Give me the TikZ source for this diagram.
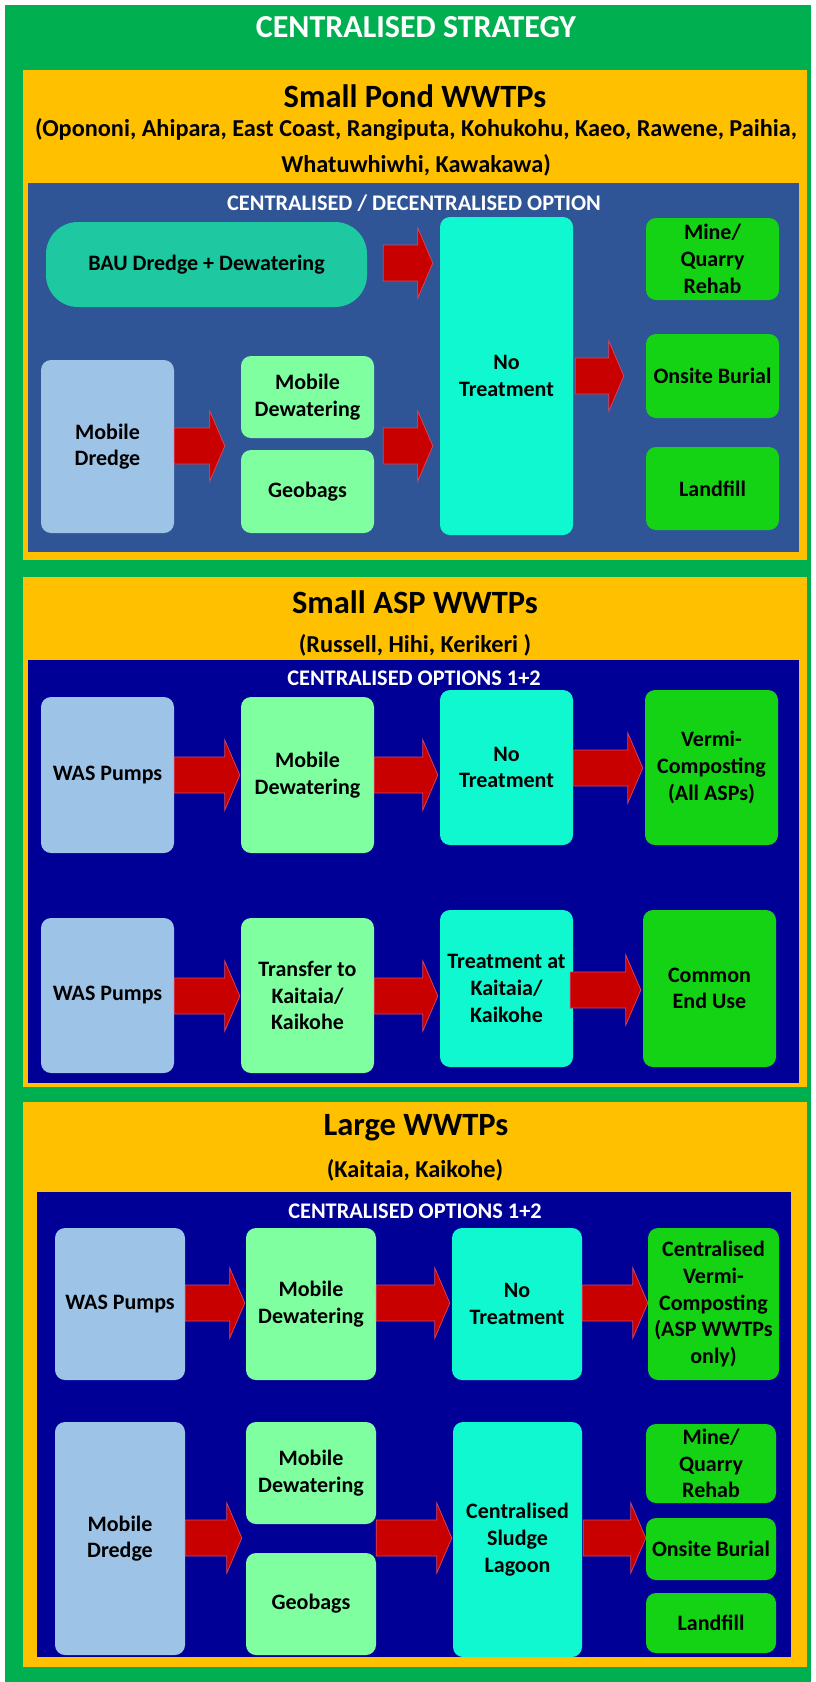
\documentclass[tikz,border=0pt]{standalone}
\usepackage{fontspec}
\setmainfont{Carlito}
\usetikzlibrary{calc}
\definecolor{cgreen}{RGB}{0,176,80}
\definecolor{corange}{RGB}{255,192,0}
\definecolor{csteel}{RGB}{47,85,151}
\definecolor{cnavy}{RGB}{0,0,150}
\definecolor{clblue}{RGB}{157,195,230}
\definecolor{cmint}{RGB}{128,255,160}
\definecolor{ccyan}{RGB}{16,248,208}
\definecolor{cteal}{RGB}{30,200,160}
\definecolor{cbright}{RGB}{20,210,20}
\definecolor{cred}{RGB}{200,0,0}
\definecolor{credline}{RGB}{215,70,100}
\newcommand\boxfont{\bfseries\fontsize{22}{26.7}\selectfont}
\newcommand\bx[7]{\node[box,fill=#6,minimum width={(#4-#2)*1pt},minimum height={(#5-#3)*1pt}] (#1) at ({(#2+#4)/2},{(#3+#5)/2}) {#7};}
% block arrow: from node, to node, y centre, gap at start, gap at end
\newcommand\barrow[5]{%
  \filldraw[blockarrow] let \p1=(#1.east), \p2=(#2.west) in
    ({\x1+#4pt},{-#3pt+18pt}) -- ({\x2-#5pt-15pt},{-#3pt+18pt}) -- ({\x2-#5pt-15pt},{-#3pt+35pt}) --
    ({\x2-#5pt},{-#3pt}) -- ({\x2-#5pt-15pt},{-#3pt-35pt}) -- ({\x2-#5pt-15pt},{-#3pt-18pt}) --
    ({\x1+#4pt},{-#3pt-18pt}) -- cycle;}
\tikzset{
  box/.style={rectangle,rounded corners=10pt,inner sep=0pt,align=center,font=\boxfont,text=black},
  blockarrow/.style={fill=cred,draw=credline,line width=0.7pt,line join=miter},
  heading/.style={font=\bfseries\fontsize{32.5}{38}\selectfont,text=black,inner sep=0pt},
  subhead/.style={font=\bfseries\fontsize{24.3}{28}\selectfont,text=black,inner sep=0pt},
  optlabel/.style={font=\bfseries\fontsize{22.3}{26}\selectfont,text=white,inner sep=0pt},
}
\begin{document}
\begin{tikzpicture}[x=1pt,y=-1pt]
\useasboundingbox (0,0) rectangle (816,1682);
\fill[white] (0,0) rectangle (816,1682);
\fill[cgreen] (5,5) rectangle (811,1682);
\node[font=\bfseries\fontsize{32}{36}\selectfont,text=white,inner sep=0pt] (title) at (416,27) {CENTRALISED STRATEGY};

% ---------------- Section 1 ----------------
\fill[corange] (23,70) rectangle (807,560);
\fill[csteel] (28,183) rectangle (799,552);
\node[heading] (h1) at (415,96) {Small Pond WWTPs};
\node[subhead] (s1a) at (416,130) {(Opononi, Ahipara, East Coast, Rangiputa, Kohukohu, Kaeo, Rawene, Paihia,};
\node[subhead] (s1b) at (416,165) {Whatuwhiwhi, Kawakawa)};
\node[optlabel] (l1) at (414,203) {CENTRALISED / DECENTRALISED OPTION};

\node[box,fill=cteal,rounded corners=32pt,minimum width=321pt,minimum height=85pt] (bau) at (206.5,264.5) {BAU Dredge + Dewatering};
\bx{nt1}{440}{217}{573}{535}{ccyan}{No\\Treatment}
\bx{mq1}{646}{218}{779}{300}{cbright}{Mine/\\Quarry\\Rehab}
\bx{ob1}{646}{334}{779}{418}{cbright}{Onsite Burial}
\bx{lf1}{646}{447}{779}{530}{cbright}{Landfill}
\bx{md1}{41}{360}{174}{533}{clblue}{Mobile\\Dredge}
\bx{mdw1}{241}{356}{374}{438}{cmint}{Mobile\\Dewatering}
\bx{gb1}{241}{450}{374}{533}{cmint}{Geobags}

\barrow{bau}{nt1}{263}{16}{7}
\barrow{md1}{mdw1}{446}{0}{16}
\barrow{mdw1}{nt1}{446}{9}{7}
\barrow{nt1}{ob1}{376}{2}{22}

% ---------------- Section 2 ----------------
\fill[corange] (23,577) rectangle (807,1087);
\fill[cnavy] (28,660) rectangle (799,1083);
\node[heading] (h2) at (415,602) {Small ASP WWTPs};
\node[subhead] (s2) at (415,645) {(Russell, Hihi, Kerikeri )};
\node[optlabel] (l2) at (414,678) {CENTRALISED OPTIONS 1+2};

\bx{was1}{41}{697}{174}{853}{clblue}{WAS Pumps}
\bx{mdw2}{241}{697}{374}{853}{cmint}{Mobile\\Dewatering}
\bx{nt2}{440}{690}{573}{845}{ccyan}{No\\Treatment}
\bx{vc}{645}{690}{778}{845}{cbright}{Vermi-\\Composting\\(All ASPs)}
\bx{was2}{41}{918}{174}{1073}{clblue}{WAS Pumps}
\bx{tr}{241}{918}{374}{1073}{cmint}{Transfer to\\Kaitaia/\\Kaikohe}
\bx{ta}{440}{910}{573}{1067}{ccyan}{Treatment at\\Kaitaia/\\Kaikohe}
\bx{ceu}{643}{910}{776}{1067}{cbright}{Common\\End Use}

\barrow{was1}{mdw2}{775}{0}{1}
\barrow{mdw2}{nt2}{775}{0}{2}
\barrow{nt2}{vc}{768}{0}{2}
\barrow{was2}{tr}{996}{0}{1}
\barrow{tr}{ta}{996}{0}{2}
\barrow{ta}{ceu}{990}{-3}{2}

% ---------------- Section 3 ----------------
\fill[corange] (23,1102) rectangle (807,1667);
\fill[cnavy] (37,1192) rectangle (791,1657);
\node[heading] (h3) at (416,1128) {Large WWTPs};
\node[subhead] (s3) at (415,1170) {(Kaitaia, Kaikohe)};
\node[optlabel] (l3) at (415,1211) {CENTRALISED OPTIONS 1+2};

\bx{was3}{55}{1228}{185}{1380}{clblue}{WAS Pumps}
\bx{mdw3}{246}{1228}{376}{1380}{cmint}{Mobile\\Dewatering}
\bx{nt3}{452}{1228}{582}{1380}{ccyan}{No\\Treatment}
\bx{cvc}{648}{1228}{779}{1380}{cbright}{Centralised\\Vermi-\\Composting\\(ASP WWTPs\\only)}
\bx{md3}{55}{1422}{185}{1655}{clblue}{Mobile\\Dredge}
\bx{mdw4}{246}{1422}{376}{1524}{cmint}{Mobile\\Dewatering}
\bx{gb3}{246}{1553}{376}{1655}{cmint}{Geobags}
\bx{csl}{453}{1422}{582}{1657}{ccyan}{Centralised\\Sludge\\Lagoon}
\bx{mq3}{646}{1424}{776}{1503}{cbright}{Mine/\\Quarry\\Rehab}
\bx{ob3}{646}{1518}{776}{1580}{cbright}{Onsite Burial}
\bx{lf3}{646}{1593}{776}{1653}{cbright}{Landfill}

\barrow{was3}{mdw3}{1303}{0}{1}
\barrow{mdw3}{nt3}{1303}{0}{2}
\barrow{nt3}{cvc}{1303}{0}{0}
\barrow{md3}{mdw4}{1538}{0}{4}
\barrow{mdw4}{csl}{1538}{0}{1}
\barrow{csl}{ob3}{1538}{1}{0}
\end{tikzpicture}
\end{document}
